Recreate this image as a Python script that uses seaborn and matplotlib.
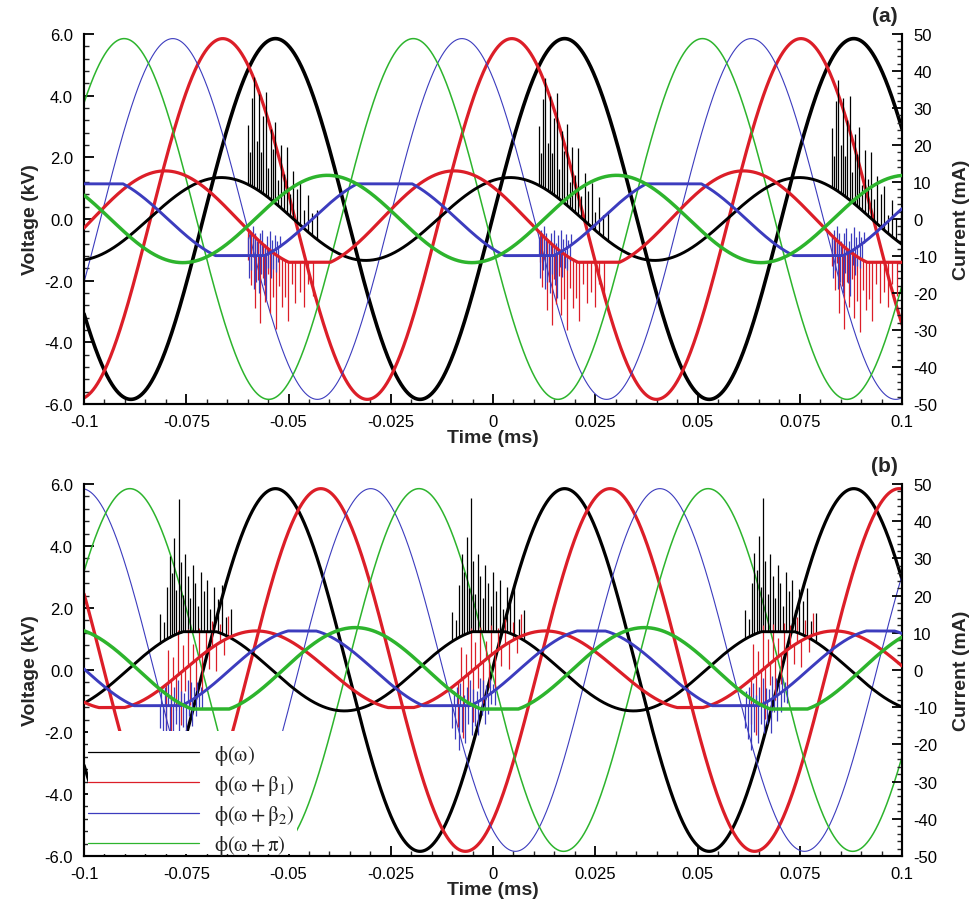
import numpy as np
import pandas as pd
import matplotlib
matplotlib.use("Agg")
import matplotlib.pyplot as plt
from matplotlib.patches import Rectangle
from matplotlib.lines import Line2D
from matplotlib.ticker import MultipleLocator
import seaborn as sns

# ---------------------------------------------------------------- data
phase_labels = [r"$\mathrm{\phi(\omega)}$", r"$\mathrm{\phi(\omega+\beta_1)}$",
                r"$\mathrm{\phi(\omega+\beta_2)}$", r"$\mathrm{\phi(\omega+\pi)}$"]
phase_colors = ["#000000", "#dc1e28", "#3c3cbe", "#2db42d"]

period_ms = 0.0707          # one cycle of the supply
voltage_amp_kv = 5.85

# panel (a): time of a voltage maximum for each phase (ms)
volt_peak_a = [0.0175, 0.0046, -0.0076, -0.0195]
# panel (a): current waveforms (mA)
cur_peak_a = [0.0042, -0.0095, -0.0265, -0.0405]
cur_amp_a = [11.2, 13.0, 11.5, 11.8]
cur_low_a = [-11.2, -11.7, -9.9, -11.8]
cur_high_a = [11.2, 13.0, 9.5, 11.8]
burst_a = [-0.0600, 0.0112, 0.0828]

# panel (b)
volt_peak_b = [0.0175, 0.0286, 0.0408, 0.0526]
cur_peak_b = [-0.0010, 0.0128, 0.0240, 0.0370]
cur_amp_b = [11.0, 10.5, 11.0, 11.4]
cur_low_b = [-11.0, -10.1, -9.6, -10.5]
cur_high_b = [10.3, 10.5, 10.5, 11.4]
burst_b = [-0.0815, -0.0100, 0.0615]

# discharge pulses inside one burst: offset from burst start (ms), height (mA)
spk_black_off_a = [0.0000, 0.0006, 0.0011, 0.0016, 0.0022, 0.0027, 0.0033, 0.0038, 0.0044,
                   0.0050, 0.0056, 0.0062, 0.0068, 0.0075, 0.0082, 0.0089, 0.0096, 0.0104,
                   0.0112, 0.0120, 0.0129, 0.0138, 0.0148, 0.0158, 0.0170]
spk_black_h_a = [16, 9, 24, 30, 13, 26, 11, 21, 28, 8, 19, 14, 22, 7, 17, 10, 18, 6, 13, 9,
                 12, 5, 10, 6, 8]
spk_red_off_a = [0.0002, 0.0008, 0.0013, 0.0019, 0.0025, 0.0031, 0.0037, 0.0043, 0.0049,
                 0.0055, 0.0062, 0.0069, 0.0076, 0.0083, 0.0091, 0.0099, 0.0108, 0.0117,
                 0.0127, 0.0137, 0.0148, 0.0160]
spk_red_h_a = [-8, -14, -6, -19, -11, -22, -9, -15, -7, -17, -12, -20, -8, -13, -10, -16,
               -6, -11, -8, -12, -6, -9]
spk_blue_off_a = [0.0000, 0.0003, 0.0006, 0.0009, 0.0012, 0.0015, 0.0018, 0.0021, 0.0024,
                  0.0027, 0.0030, 0.0033, 0.0036, 0.0039, 0.0042, 0.0045, 0.0048, 0.0051,
                  0.0054, 0.0057, 0.0060, 0.0063, 0.0066, 0.0069, 0.0072, 0.0075, 0.0078]
spk_blue_h_a = [5, -6, 7, -4, 8, -9, 6, -7, 4, -10, 6, -5, 7, -8, 3, -12, 5, -4, 6, -7, 3,
                -5, 4, -6, 2, -4, 3]

spk_black_off_b = [0.0000, 0.0010, 0.0018, 0.0024, 0.0030, 0.0036, 0.0041, 0.0046, 0.0051,
                   0.0057, 0.0063, 0.0069, 0.0075, 0.0081, 0.0087, 0.0094, 0.0101, 0.0108,
                   0.0116, 0.0124, 0.0133, 0.0142, 0.0152, 0.0163, 0.0175]
spk_black_h_b = [8, 5, 14, 22, 17, 26, 12, 36, 19, 10, 21, 15, 9, 18, 13, 7, 16, 11, 14, 6,
                 12, 9, 13, 5, 8]
spk_red_off_b = [0.0015, 0.0021, 0.0027, 0.0033, 0.0039, 0.0045, 0.0051, 0.0057, 0.0063,
                 0.0069, 0.0075, 0.0082, 0.0089, 0.0096, 0.0104, 0.0112, 0.0120, 0.0129,
                 0.0138, 0.0148, 0.0158, 0.0168]
spk_red_h_b = [-12, 9, -16, 6, -9, 12, -14, 7, -6, 10, -11, 5, -8, 8, -10, 6, -5, 7, -7, 5,
               -4, 6]
spk_blue_off_b = [0.0000, 0.0004, 0.0008, 0.0012, 0.0016, 0.0020, 0.0024, 0.0028, 0.0032,
                  0.0036, 0.0040, 0.0044, 0.0048, 0.0052, 0.0056, 0.0060, 0.0064, 0.0068,
                  0.0072, 0.0076, 0.0080, 0.0084, 0.0088, 0.0092, 0.0096, 0.0100, 0.0104]
spk_blue_h_b = [-6, 4, -9, 5, -12, 6, -7, 3, -10, 5, -5, 7, -8, 4, -6, 3, -9, 6, -4, 5, -7,
                3, -5, 4, -3, 2, -4]

x_ticks = [-0.1, -0.075, -0.05, -0.025, 0.0, 0.025, 0.05, 0.075, 0.1]
x_tick_labels = ["-0.1", "-0.075", "-0.05", "-0.025", "0", "0.025", "0.05", "0.075", "0.1"]
volt_ticks = [-6, -4, -2, 0, 2, 4, 6]
volt_tick_labels = ["-6.0", "-4.0", "-2.0", "0.0", "2.0", "4.0", "6.0"]
cur_ticks = [-50, -40, -30, -20, -10, 0, 10, 20, 30, 40, 50]
cur_tick_labels = ["-50", "-40", "-30", "-20", "-10", "0", "10", "20", "30", "40", "50"]

# ---------------------------------------------------------------- style
sns.set_theme(style="ticks")
plt.rcParams["font.family"] = ["Liberation Sans", "DejaVu Sans"]
plt.rcParams["mathtext.fontset"] = "stix"

t = np.linspace(-0.1, 0.1, 4001)


def wave(x, peak, amp, lo, hi):
    return np.clip(amp * np.cos(2 * np.pi * (np.asarray(x) - peak) / period_ms), lo, hi)


volt_lw = {"a": [2.6, 2.3, 0.8, 1.1], "b": [2.3, 2.3, 0.8, 1.1]}
cur_lw = [2.1, 2.3, 2.1, 2.5]

fig = plt.figure(figsize=(9.76, 9.04), dpi=100)
ax_a = fig.add_axes([0.0861, 0.5520, 0.8381, 0.4093])
ax_b = fig.add_axes([0.0861, 0.0520, 0.8381, 0.4115])

panels = [
    (ax_a, "a", volt_peak_a, cur_peak_a, cur_amp_a, cur_low_a, cur_high_a, burst_a,
     [(spk_black_off_a, spk_black_h_a, 0), (spk_red_off_a, spk_red_h_a, 1),
      (spk_blue_off_a, spk_blue_h_a, 2)]),
    (ax_b, "b", volt_peak_b, cur_peak_b, cur_amp_b, cur_low_b, cur_high_b, burst_b,
     [(spk_black_off_b, spk_black_h_b, 0), (spk_red_off_b, spk_red_h_b, 1),
      (spk_blue_off_b, spk_blue_h_b, 2)]),
]

for ax, tag, vpk, cpk, camp, clo, chi, bursts, spikes in panels:
    ax2 = ax.twinx()

    # supply voltages
    for i in range(4):
        df = pd.DataFrame({"t": t, "v": voltage_amp_kv * np.cos(2 * np.pi * (t - vpk[i]) / period_ms)})
        sns.lineplot(data=df, x="t", y="v", ax=ax, color=phase_colors[i],
                     linewidth=volt_lw[tag][i], estimator=None, sort=False)

    # discharge current pulses
    for offs, hts, i in spikes:
        xs, y0, y1 = [], [], []
        for s in bursts:
            for o, h in zip(offs, hts):
                x = s + o
                if -0.1 <= x <= 0.1:
                    base = float(wave(x, cpk[i], camp[i], clo[i], chi[i]))
                    xs.append(x)
                    y0.append(base)
                    y1.append(base + h)
        ax2.vlines(xs, y0, y1, color=phase_colors[i], linewidth=0.9, zorder=2)

    # currents
    for i in range(4):
        df = pd.DataFrame({"t": t, "c": wave(t, cpk[i], camp[i], clo[i], chi[i])})
        sns.lineplot(data=df, x="t", y="c", ax=ax2, color=phase_colors[i],
                     linewidth=cur_lw[i], estimator=None, sort=False, zorder=3)

    ax.set_xlim(-0.1, 0.1)
    ax.set_ylim(-6, 6)
    ax2.set_ylim(-50, 50)

    ax.set_xticks(x_ticks)
    ax.set_xticklabels(x_tick_labels)
    ax.xaxis.set_minor_locator(MultipleLocator(0.005))
    ax.set_yticks(volt_ticks)
    ax.set_yticklabels(volt_tick_labels)
    ax.yaxis.set_minor_locator(MultipleLocator(0.4))
    ax2.set_yticks(cur_ticks)
    ax2.set_yticklabels(cur_tick_labels)
    ax2.yaxis.set_minor_locator(MultipleLocator(2))

    for a in (ax, ax2):
        a.spines["top"].set_visible(False)
        for sp in ("left", "right", "bottom"):
            a.spines[sp].set_linewidth(1.5)
            a.spines[sp].set_color("black")

    ax.tick_params(axis="both", which="major", direction="in", length=7, width=1.3,
                   labelsize=12, colors="black", right=False, top=False)
    ax.tick_params(axis="both", which="minor", direction="in", length=3.5, width=1.0,
                   right=False, top=False)
    ax.tick_params(axis="x", which="major", pad=7)
    ax.tick_params(axis="y", which="major", pad=8)
    ax2.tick_params(axis="y", which="major", direction="in", length=7, width=1.3,
                    labelsize=12, colors="black", pad=8, left=False)
    ax2.tick_params(axis="y", which="minor", direction="in", length=3.5, width=1.0,
                    left=False)

    ax.set_xlabel("Time (ms)", fontsize=14, fontweight="bold", labelpad=0)
    ax.set_ylabel("Voltage (kV)", fontsize=14, fontweight="bold", labelpad=4)
    ax2.set_ylabel("Current (mA)", fontsize=14, fontweight="bold", labelpad=11)
    ax.text(0.979, 1.05, f"({tag})", transform=ax.transAxes, ha="center", va="center",
            fontsize=15, fontweight="bold")

    if tag == "b":
        ax2.add_patch(Rectangle((0.005, 0.005), 0.255, 0.33, transform=ax2.transAxes,
                                facecolor="white", edgecolor="none", zorder=5))
        handles = [Line2D([0], [0], color=c, linewidth=0.9) for c in phase_colors]
        leg = ax2.legend(handles, phase_labels, loc="upper left",
                         bbox_to_anchor=(0.005, 0.305), frameon=False, fontsize=15,
                         handlelength=5.3, handletextpad=0.75, labelspacing=0.3,
                         borderpad=0, borderaxespad=0)
        leg.set_zorder(6)
        for txt in leg.get_texts():
            txt.set_color("#222222")

fig.savefig("out.png", dpi=100, facecolor="white")
